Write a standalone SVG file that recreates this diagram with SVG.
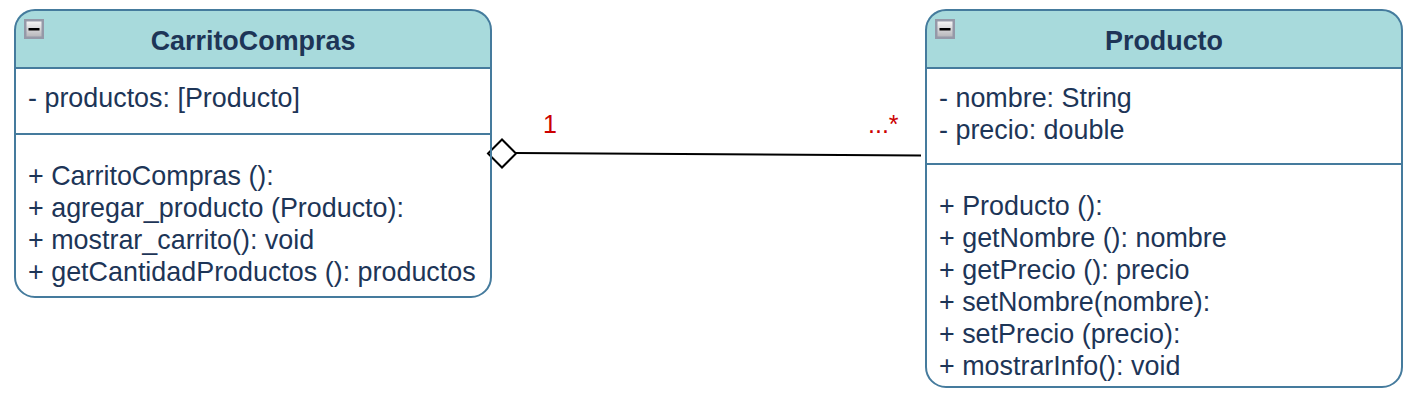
<svg xmlns="http://www.w3.org/2000/svg" width="1411" height="403" viewBox="0 0 1411 403">
  <style>
    .box { fill: none; stroke: #457B9D; stroke-width: 2; }
    .hdr { fill: #A8DADC; }
    .line { stroke: #457B9D; stroke-width: 2; fill: none; }
    .title { font-family: "Liberation Sans", Arial, sans-serif; font-size: 26.9px; font-weight: bold; fill: #1D3557; text-anchor: middle; }
    .txt { font-family: "Liberation Sans", Arial, sans-serif; font-size: 26.9px; fill: #1D3557; }
    .mult { font-family: "Liberation Sans", Arial, sans-serif; font-size: 25px; fill: #CC0000; }
    .conn { stroke: #000000; stroke-width: 2; fill: none; }
  </style>
  <defs>
    <linearGradient id="icg" x1="0" y1="0" x2="0" y2="1">
      <stop offset="0" stop-color="#f4f4f4"/>
      <stop offset="1" stop-color="#b8b8bc"/>
    </linearGradient>
    <g id="icon">
      <rect x="0" y="0" width="20" height="20" fill="#9599a8"/>
      <rect x="2.5" y="2.5" width="15" height="15" fill="url(#icg)"/>
      <rect x="4.5" y="9" width="11" height="2.5" fill="#000000"/>
    </g>
  </defs>

  <g id="connectors">
    <path class="conn" d="M 516 153 L 921 155.5"/>
    <path d="M 488 153.5 L 502 139.5 L 516 153.5 L 502 167.5 Z" fill="#ffffff" stroke="#000000" stroke-width="2"/>
    <text class="mult" x="543" y="133">1</text>
    <text class="mult" x="868" y="133">...*</text>
  </g>

  <g id="CarritoCompras">
    <path class="hdr" d="M 15 68 L 15 30 Q 15 10 35 10 L 471 10 Q 491 10 491 30 L 491 68 Z"/>
    <rect class="box" x="15" y="10" width="476" height="287" rx="20" ry="20"/>
    <line class="line" x1="15" y1="68" x2="491" y2="68"/>
    <line class="line" x1="15" y1="134" x2="491" y2="134"/>
    <use href="#icon" x="24" y="19"/>
    <text class="title" x="253" y="50">CarritoCompras</text>
    <text class="txt" x="28" y="107">- productos: [Producto]</text>
    <text class="txt" x="28" y="185">+ CarritoCompras ():</text>
    <text class="txt" x="28" y="217">+ agregar_producto (Producto):</text>
    <text class="txt" x="28" y="249">+ mostrar_carrito(): void</text>
    <text class="txt" x="28" y="281">+ getCantidadProductos (): productos</text>
  </g>

  <g id="Producto">
    <path class="hdr" d="M 926 68 L 926 30 Q 926 10 946 10 L 1382 10 Q 1402 10 1402 30 L 1402 68 Z"/>
    <rect class="box" x="926" y="10" width="476" height="377" rx="20" ry="20"/>
    <line class="line" x1="926" y1="68" x2="1402" y2="68"/>
    <line class="line" x1="926" y1="164" x2="1402" y2="164"/>
    <use href="#icon" x="935" y="19"/>
    <text class="title" x="1164" y="50">Producto</text>
    <text class="txt" x="939" y="107">- nombre: String</text>
    <text class="txt" x="939" y="139">- precio: double</text>
    <text class="txt" x="939" y="215">+ Producto ():</text>
    <text class="txt" x="939" y="247">+ getNombre (): nombre</text>
    <text class="txt" x="939" y="279">+ getPrecio (): precio</text>
    <text class="txt" x="939" y="311">+ setNombre(nombre):</text>
    <text class="txt" x="939" y="343">+ setPrecio (precio):</text>
    <text class="txt" x="939" y="375">+ mostrarInfo(): void</text>
  </g>
</svg>
